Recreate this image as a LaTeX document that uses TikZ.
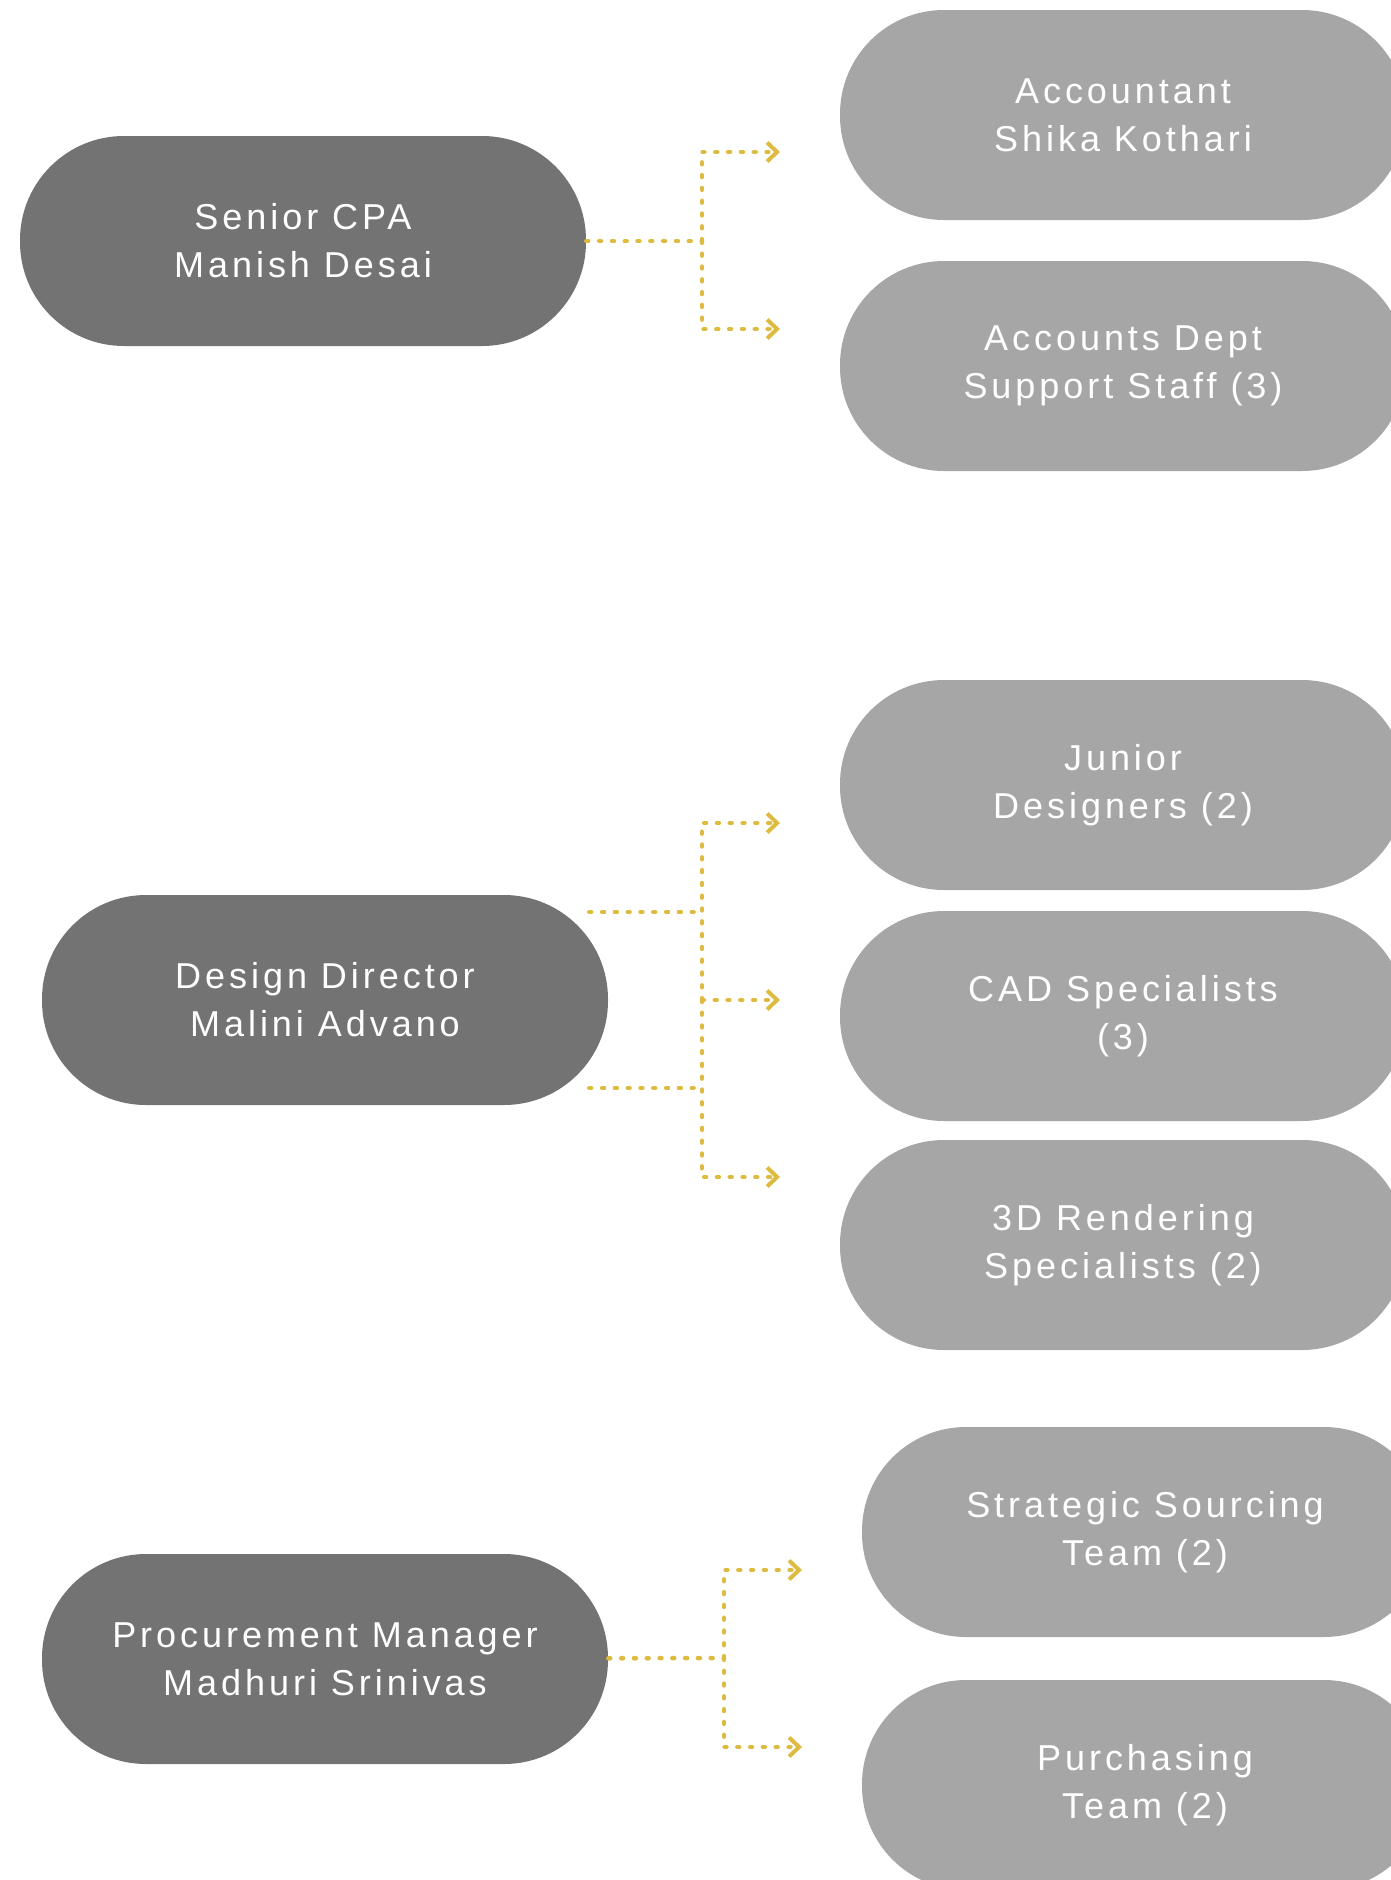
\documentclass[tikz,border=0pt]{standalone}
\usepackage{fontspec}
\setmainfont{Liberation Sans}[LetterSpace=11]
\usepackage{xcolor}
\usetikzlibrary{arrows.meta}
\definecolor{bossgray}{HTML}{737373}
\definecolor{teamgray}{HTML}{A6A6A6}
\definecolor{linkgold}{HTML}{DDBB40}
\begin{document}
\begin{tikzpicture}[x=0.5pt, y=-0.5pt,
    every node/.style = {shape=rectangle, rounded corners=52pt,
      align=center, inner sep=0pt, text=white,
      font=\fontsize{18}{24}\selectfont,
      minimum width=283pt, minimum height=105pt},
    boss/.style = {fill=bossgray},
    team/.style = {fill=teamgray},
    link/.style = {draw=linkgold, line width=2.3pt, line cap=round,
      dash pattern=on 0.9pt off 5.5pt},
    tip/.style = {-{Straight Barb[length=5pt, width=9.5pt, line width=2pt]}}]
  \useasboundingbox (0,0) rectangle (1391,1880);
  \fill[white] (0,0) rectangle (1391,1880);
  \node[boss] (cpa) at (303,241) {Senior CPA\\Manish Desai};
  \node[team] (acc) at (1123,115) {Accountant\\Shika Kothari};
  \node[team] (sup) at (1123,366) {Accounts Dept\\Support Staff (3)};
  \node[boss] (dd) at (325,1000) {Design Director\\Malini Advano};
  \node[team] (jun) at (1123,785) {Junior\\Designers (2)};
  \node[team] (cad) at (1123,1016) {CAD Specialists\\(3)};
  \node[team] (ren) at (1123,1245) {3D Rendering\\Specialists (2)};
  \node[boss] (proc) at (325,1659) {Procurement Manager\\Madhuri Srinivas};
  \node[team] (sts) at (1145,1532) {Strategic Sourcing\\Team (2)};
  \node[team] (pur) at (1145,1785) {Purchasing\\Team (2)};
  \coordinate (b1) at (702,241);
  \coordinate (t1a) at (780,152);
  \coordinate (t1b) at (780,329);
  \coordinate (b2) at (702,1000);
  \coordinate (t2a) at (780,823);
  \coordinate (t2b) at (780,1000);
  \coordinate (t2c) at (780,1177);
  \coordinate (b3) at (724,1658);
  \coordinate (t3a) at (802,1570);
  \coordinate (t3b) at (802,1747);
  \path ([xshift=-9.5pt,yshift=44pt]dd.east) coordinate (d1)
        ([xshift=-9.5pt,yshift=-44pt]dd.east) coordinate (d2);
  \draw[link] (cpa) -- (b1);
  \draw[link,tip] (b1) |- (t1a);
  \draw[link,tip] (b1) |- (t1b);
  \draw[link] (d1) -- (d1 -| b2);
  \draw[link] (d2) -- (d2 -| b2);
  \draw[link,tip] (b2) |- (t2a);
  \draw[link,tip] (b2) -- (t2b);
  \draw[link,tip] (b2) |- (t2c);
  \draw[link] (proc) -- (b3);
  \draw[link,tip] (b3) |- (t3a);
  \draw[link,tip] (b3) |- (t3b);
\end{tikzpicture}
\end{document}
